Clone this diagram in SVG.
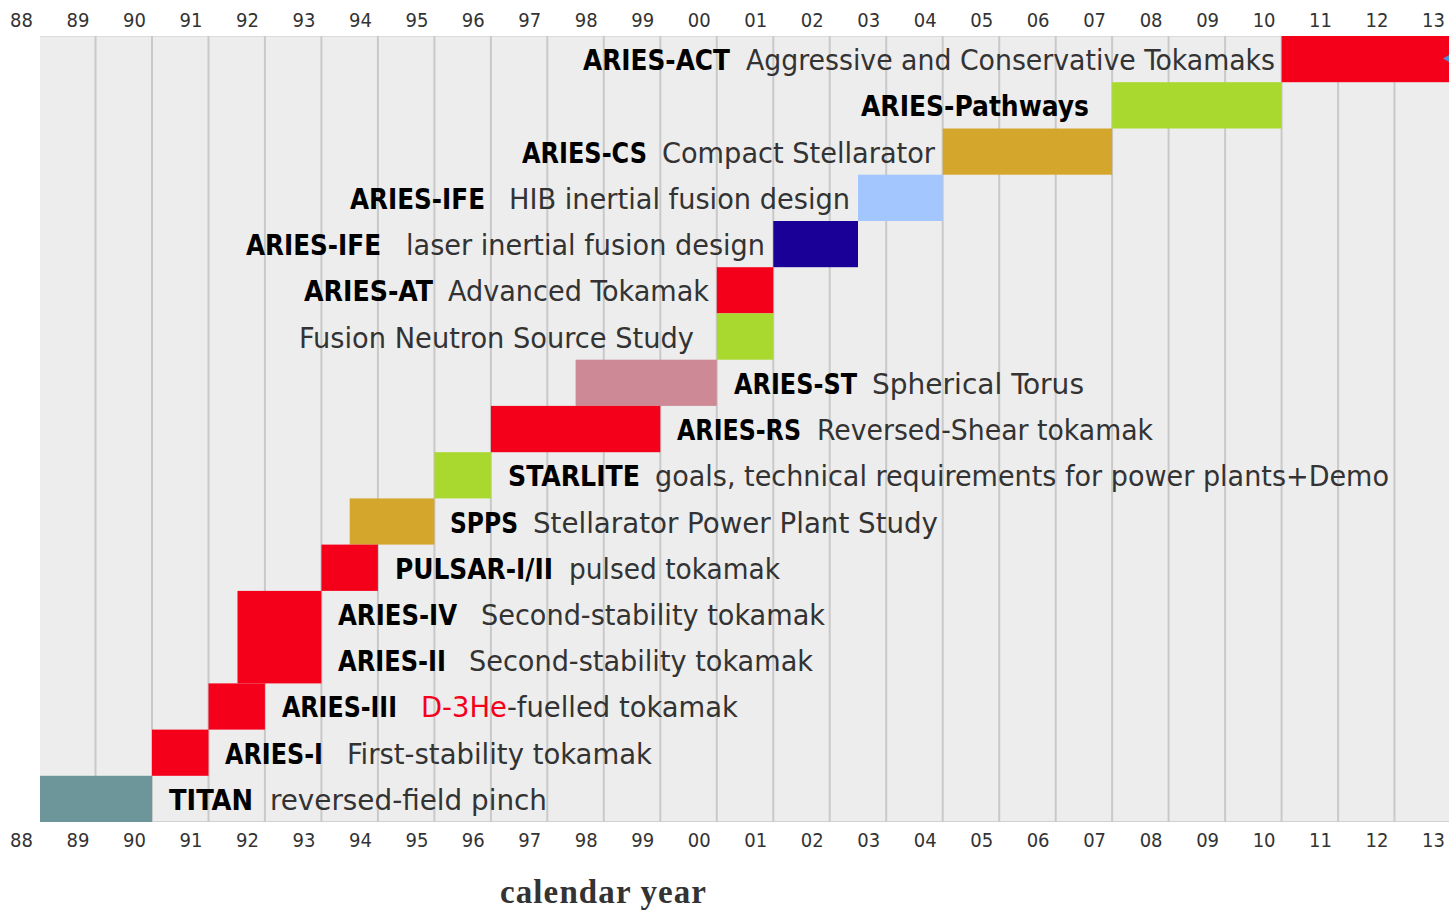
<svg xmlns="http://www.w3.org/2000/svg" width="1449" height="910" viewBox="0 0 1449 910">
<style>
.bg{fill:#ededed}
.grid{stroke:#c9c9c9;stroke-width:2}
.lbl{font-family:"DejaVu Sans Condensed","DejaVu Sans",sans-serif;font-weight:bold;font-size:29px;fill:#000}
.desc{font-family:"DejaVu Sans Condensed","DejaVu Sans",sans-serif;font-size:29px;fill:#333}
.yr{font-family:"DejaVu Sans Condensed","DejaVu Sans",sans-serif;font-size:20px;fill:#333;text-anchor:middle}
.red{fill:#f5001a}
.green{fill:#a9d92e}
.gold{fill:#d4a72c}
.lblue{fill:#a3c6ff}
.navy{fill:#1a0096}
.pink{fill:#cd8a96}
.teal{fill:#6c969a}
.axis{font-family:"Liberation Serif",serif;font-weight:bold;font-size:33px;fill:#333}
</style>
<g id="chart-bg">
<rect class="bg" x="40" y="36" width="1409" height="786"/>
<line x1="40" y1="36.5" x2="1449" y2="36.5" stroke="#dcdcdc" stroke-width="1"/>
<line x1="40" y1="821.5" x2="1449" y2="821.5" stroke="#d0d0d0" stroke-width="1"/>
</g>
<g id="gridlines" class="grid">
<line x1="95.5" y1="36" x2="95.5" y2="822"/>
<line x1="152" y1="36" x2="152" y2="822"/>
<line x1="208.5" y1="36" x2="208.5" y2="822"/>
<line x1="264.9" y1="36" x2="264.9" y2="822"/>
<line x1="321.4" y1="36" x2="321.4" y2="822"/>
<line x1="377.9" y1="36" x2="377.9" y2="822"/>
<line x1="434.4" y1="36" x2="434.4" y2="822"/>
<line x1="490.9" y1="36" x2="490.9" y2="822"/>
<line x1="547.3" y1="36" x2="547.3" y2="822"/>
<line x1="603.8" y1="36" x2="603.8" y2="822"/>
<line x1="660.3" y1="36" x2="660.3" y2="822"/>
<line x1="716.8" y1="36" x2="716.8" y2="822"/>
<line x1="773.3" y1="36" x2="773.3" y2="822"/>
<line x1="829.7" y1="36" x2="829.7" y2="822"/>
<line x1="886.2" y1="36" x2="886.2" y2="822"/>
<line x1="942.7" y1="36" x2="942.7" y2="822"/>
<line x1="999.2" y1="36" x2="999.2" y2="822"/>
<line x1="1055.7" y1="36" x2="1055.7" y2="822"/>
<line x1="1112.1" y1="36" x2="1112.1" y2="822"/>
<line x1="1168.6" y1="36" x2="1168.6" y2="822"/>
<line x1="1225.1" y1="36" x2="1225.1" y2="822"/>
<line x1="1281.6" y1="36" x2="1281.6" y2="822"/>
<line x1="1338.1" y1="36" x2="1338.1" y2="822"/>
<line x1="1394.5" y1="36" x2="1394.5" y2="822"/>
</g>
<g id="years-top" class="yr">
<text x="21.5" y="27">88</text><text x="78" y="27">89</text><text x="134.5" y="27">90</text><text x="190.9" y="27">91</text><text x="247.4" y="27">92</text><text x="303.9" y="27">93</text><text x="360.4" y="27">94</text><text x="416.9" y="27">95</text><text x="473.3" y="27">96</text><text x="529.8" y="27">97</text><text x="586.3" y="27">98</text><text x="642.8" y="27">99</text><text x="699.3" y="27">00</text><text x="755.7" y="27">01</text><text x="812.2" y="27">02</text><text x="868.7" y="27">03</text><text x="925.2" y="27">04</text><text x="981.7" y="27">05</text><text x="1038.1" y="27">06</text><text x="1094.6" y="27">07</text><text x="1151.1" y="27">08</text><text x="1207.6" y="27">09</text><text x="1264.1" y="27">10</text><text x="1320.5" y="27">11</text><text x="1377" y="27">12</text><text x="1433.5" y="27">13</text>
</g>
<g id="years-bottom" class="yr">
<text x="21.5" y="847">88</text><text x="78" y="847">89</text><text x="134.5" y="847">90</text><text x="190.9" y="847">91</text><text x="247.4" y="847">92</text><text x="303.9" y="847">93</text><text x="360.4" y="847">94</text><text x="416.9" y="847">95</text><text x="473.3" y="847">96</text><text x="529.8" y="847">97</text><text x="586.3" y="847">98</text><text x="642.8" y="847">99</text><text x="699.3" y="847">00</text><text x="755.7" y="847">01</text><text x="812.2" y="847">02</text><text x="868.7" y="847">03</text><text x="925.2" y="847">04</text><text x="981.7" y="847">05</text><text x="1038.1" y="847">06</text><text x="1094.6" y="847">07</text><text x="1151.1" y="847">08</text><text x="1207.6" y="847">09</text><text x="1264.1" y="847">10</text><text x="1320.5" y="847">11</text><text x="1377" y="847">12</text><text x="1433.5" y="847">13</text>
</g>
<g id="aries-act">
<rect class="red" x="1281.6" y="36" width="167.4" height="46.2"/>
<path d="M1449 55 L1443 58.5 L1449 62 Z" fill="#4a90d9"/>
<text class="lbl" x="583" y="70" textLength="147" lengthAdjust="spacingAndGlyphs">ARIES-ACT</text>
<text class="desc" x="746" y="70" textLength="529" lengthAdjust="spacingAndGlyphs">Aggressive and Conservative Tokamaks</text>
</g>
<g id="aries-pathways">
<rect class="green" x="1112.1" y="82.2" width="169.5" height="46.3"/>
<text class="lbl" x="861" y="116" textLength="228" lengthAdjust="spacingAndGlyphs">ARIES-Pathways</text>
</g>
<g id="aries-cs">
<rect class="gold" x="942.7" y="128.5" width="169.4" height="46.2"/>
<text class="lbl" x="522" y="163" textLength="125" lengthAdjust="spacingAndGlyphs">ARIES-CS</text>
<text class="desc" x="662" y="163" textLength="273" lengthAdjust="spacingAndGlyphs">Compact Stellarator</text>
</g>
<g id="aries-ife-hib">
<rect class="lblue" x="858" y="174.7" width="84.7" height="46.3"/>
<text class="lbl" x="350" y="209" textLength="135" lengthAdjust="spacingAndGlyphs">ARIES-IFE</text>
<text class="desc" x="509" y="209" textLength="341" lengthAdjust="spacingAndGlyphs">HIB inertial fusion design</text>
</g>
<g id="aries-ife-laser">
<rect class="navy" x="773.3" y="221" width="84.7" height="46.2"/>
<text class="lbl" x="246" y="255" textLength="135" lengthAdjust="spacingAndGlyphs">ARIES-IFE</text>
<text class="desc" x="406" y="255" textLength="359" lengthAdjust="spacingAndGlyphs">laser inertial fusion design</text>
</g>
<g id="aries-at">
<rect class="red" x="716.8" y="267.2" width="56.5" height="46.2"/>
<text class="lbl" x="304" y="301" textLength="129" lengthAdjust="spacingAndGlyphs">ARIES-AT</text>
<text class="desc" x="448" y="301" textLength="261" lengthAdjust="spacingAndGlyphs">Advanced Tokamak</text>
</g>
<g id="fns">
<rect class="green" x="716.8" y="313.4" width="56.5" height="46.3"/>
<text class="desc" x="299" y="348" textLength="395" lengthAdjust="spacingAndGlyphs">Fusion Neutron Source Study</text>
</g>
<g id="aries-st">
<rect class="pink" x="575.6" y="359.7" width="141.2" height="46.2"/>
<text class="lbl" x="734" y="394" textLength="123" lengthAdjust="spacingAndGlyphs">ARIES-ST</text>
<text class="desc" x="872" y="394" textLength="212" lengthAdjust="spacingAndGlyphs">Spherical Torus</text>
</g>
<g id="aries-rs">
<rect class="red" x="490.9" y="405.9" width="169.4" height="46.3"/>
<text class="lbl" x="677" y="440" textLength="124" lengthAdjust="spacingAndGlyphs">ARIES-RS</text>
<text class="desc" x="817" y="440" textLength="336" lengthAdjust="spacingAndGlyphs">Reversed-Shear tokamak</text>
</g>
<g id="starlite">
<rect class="green" x="434.4" y="452.2" width="56.5" height="46.2"/>
<text class="lbl" x="508" y="486" textLength="132" lengthAdjust="spacingAndGlyphs">STARLITE</text>
<text class="desc" x="655" y="486" textLength="734" lengthAdjust="spacingAndGlyphs">goals, technical requirements for power plants+Demo</text>
</g>
<g id="spps">
<rect class="gold" x="349.7" y="498.4" width="84.7" height="46.2"/>
<text class="lbl" x="450" y="533" textLength="68" lengthAdjust="spacingAndGlyphs">SPPS</text>
<text class="desc" x="533" y="533" textLength="405" lengthAdjust="spacingAndGlyphs">Stellarator Power Plant Study</text>
</g>
<g id="pulsar">
<rect class="red" x="321.4" y="544.6" width="56.5" height="46.3"/>
<text class="lbl" x="395" y="579" textLength="158" lengthAdjust="spacingAndGlyphs">PULSAR-I/II</text>
<text class="desc" x="569" y="579" textLength="211" lengthAdjust="spacingAndGlyphs">pulsed tokamak</text>
</g>
<g id="aries-iv-ii">
<rect class="red" x="237.5" y="590.9" width="83.9" height="92.5"/>
<text class="lbl" x="338" y="625" textLength="119" lengthAdjust="spacingAndGlyphs">ARIES-IV</text>
<text class="desc" x="481" y="625" textLength="344" lengthAdjust="spacingAndGlyphs">Second-stability tokamak</text>
<text class="lbl" x="338" y="671" textLength="108" lengthAdjust="spacingAndGlyphs">ARIES-II</text>
<text class="desc" x="469" y="671" textLength="344" lengthAdjust="spacingAndGlyphs">Second-stability tokamak</text>
</g>
<g id="aries-iii">
<rect class="red" x="208.5" y="683.4" width="56.4" height="46.2"/>
<text class="lbl" x="282" y="717" textLength="115" lengthAdjust="spacingAndGlyphs">ARIES-III</text>
<text class="desc" x="421" y="717" textLength="317" lengthAdjust="spacingAndGlyphs"><tspan fill="#f5001a">D-3He</tspan>-fuelled tokamak</text>
</g>
<g id="aries-i">
<rect class="red" x="152" y="729.6" width="56.5" height="46.2"/>
<text class="lbl" x="225" y="764" textLength="98" lengthAdjust="spacingAndGlyphs">ARIES-I</text>
<text class="desc" x="347" y="764" textLength="305" lengthAdjust="spacingAndGlyphs">First-stability tokamak</text>
</g>
<g id="titan">
<rect class="teal" x="40" y="775.8" width="112" height="46.2"/>
<text class="lbl" x="169" y="810" textLength="84" lengthAdjust="spacingAndGlyphs">TITAN</text>
<text class="desc" x="270" y="810" textLength="277" lengthAdjust="spacingAndGlyphs">reversed-field pinch</text>
</g>
<g id="axis-title">
<text class="axis" x="500" y="903" textLength="206" lengthAdjust="spacing">calendar year</text>
</g>
</svg>
